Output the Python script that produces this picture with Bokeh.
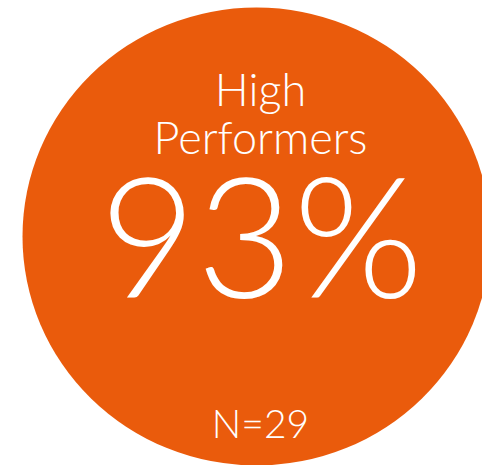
from bokeh.plotting import figure
from bokeh.models import Range1d
from bokeh.core.properties import value
from bokeh.embed import file_html
from bokeh.resources import INLINE

# data
group_label = ["High", "Performers"]
share_pct = [93]
n_count = [29]

ORANGE = "#EA5B0C"
FONT = "Lato Light"

W, H = 482, 465
p = figure(width=W, height=H, output_backend="svg", toolbar_location=None,
           x_range=Range1d(0, W), y_range=Range1d(0, H), min_border=0,
           background_fill_color="white", border_fill_color="white")
p.axis.visible = False
p.grid.visible = False
p.outline_line_color = None

# disc
p.ellipse(x=[256], y=[H - 236], width=[468], height=[458],
          fill_color=ORANGE, line_color=None)

cx = 260
p.text(x=[cx, cx], y=[H - 88, H - 136], text=group_label,
       text_font=value(FONT), text_font_size="45px", text_color="white",
       text_align="center", text_baseline="alphabetic")
p.text(x=[cx + 1], y=[H - 233], text=[f"{v}%" for v in share_pct],
       text_font=value(FONT), text_font_size="167px", text_color="white",
       text_align="center", text_baseline="alphabetic")
p.text(x=[cx], y=[H - 422], text=[f"N={v}" for v in n_count],
       text_font=value(FONT), text_font_size="39px", text_color="white",
       text_align="center", text_baseline="alphabetic")

open("out.html", "w").write(file_html(p, INLINE))
